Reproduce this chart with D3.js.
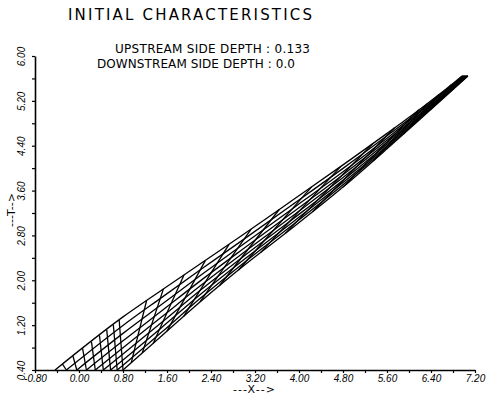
<!DOCTYPE html>
<html>
<head>
<meta charset="utf-8">
<script src="https://cdn.jsdelivr.net/npm/d3@7"></script>
<style>
  html, body { margin: 0; padding: 0; background: #fff; }
  svg { display: block; }
</style>
</head>
<body>
<div id="chart"></div>
<script>
// ticks and labels
const xTicks = [-0.8, -0.4, 0, 0.4, 0.8, 1.2, 1.6, 2.0, 2.4, 2.8, 3.2, 3.6, 4.0, 4.4, 4.8, 5.2, 5.6, 6.0, 6.4, 6.8, 7.2];
const xLabelValues = [-0.8, 0, 0.8, 1.6, 2.4, 3.2, 4.0, 4.8, 5.6, 6.4, 7.2];
const xLabels = ['-0.80', '0.00', '0.80', '1.60', '2.40', '3.20', '4.00', '4.80', '5.60', '6.40', '7.20'];
const yTicks = [0.4, 0.8, 1.2, 1.6, 2.0, 2.4, 2.8, 3.2, 3.6, 4.0, 4.4, 4.8, 5.2, 5.6, 6.0];
const yLabelValues = [0.4, 1.2, 2.0, 2.8, 3.6, 4.4, 5.2, 6.0];
const yLabels = ['0.40', '1.20', '2.00', '2.80', '3.60', '4.40', '5.20', '6.00'];

// C+ characteristics: start on t = 0.4, pass the sample columns, meet at the top
const tStart = 0.4;
const tEnd = 5.643;
const cPlusStartX = [-0.436, -0.23, -0.04, 0.135, 0.296, 0.442, 0.574, 0.694, 0.8];
const cPlusEndX = [6.964, 6.981, 6.998, 7.013, 7.027, 7.040, 7.052, 7.063, 7.073];
const sampleX = [0.8, 1.5, 2.2, 3.0, 3.9, 4.8, 5.6, 6.3, 6.8];
const cPlusT = [
  [1.347, 1.823, 2.290, 2.824, 3.440, 4.058, 4.620, 5.128, 5.511],
  [1.195, 1.691, 2.182, 2.734, 3.363, 3.996, 4.576, 5.101, 5.494],
  [1.053, 1.567, 2.080, 2.650, 3.290, 3.937, 4.535, 5.076, 5.477],
  [0.921, 1.452, 1.985, 2.572, 3.223, 3.883, 4.496, 5.052, 5.462],
  [0.798, 1.344, 1.897, 2.499, 3.160, 3.832, 4.460, 5.031, 5.448],
  [0.684, 1.245, 1.816, 2.432, 3.102, 3.786, 4.427, 5.010, 5.435],
  [0.580, 1.155, 1.742, 2.370, 3.049, 3.743, 4.397, 4.992, 5.423],
  [0.485, 1.072, 1.674, 2.314, 3.000, 3.704, 4.370, 4.975, 5.412],
  [0.400, 1.006, 1.613, 2.264, 2.950, 3.662, 4.345, 4.960, 5.403]
];

// C- characteristics: segments crossing the band
const cMinusX1 = [-0.23, -0.04, 0.135, 0.296, 0.442, 0.574, 0.694, 0.8, 0.95, 1.15, 1.35, 1.6, 1.9, 2.2, 2.55, 2.9, 3.3, 3.75, 4.25, 4.8, 5.35, 5.9, 6.4, 6.8];
const cMinusT1 = [0.4, 0.4, 0.4, 0.4, 0.4, 0.4, 0.4, 0.4, 0.530, 0.703, 0.876, 1.093, 1.353, 1.613, 1.898, 2.183, 2.493, 2.836, 3.228, 3.662, 4.130, 4.609, 5.048, 5.403];
const cMinusX2 = [-0.30, -0.11, 0.065, 0.226, 0.372, 0.504, 0.624, 0.73, 1.229, 1.535, 1.909, 2.298, 2.728, 3.13, 3.641, 4.229, 4.761, 5.344, 5.737, 6.18, 6.34, 6.54, 6.767, 6.98];
const cMinusT2 = [0.504, 0.650, 0.784, 0.907, 1.019, 1.120, 1.212, 1.293, 1.639, 1.846, 2.096, 2.355, 2.642, 2.913, 3.262, 3.665, 4.032, 4.440, 4.720, 5.040, 5.160, 5.310, 5.490, 5.643];

const width = 490, height = 398;

const svg = d3.select('#chart').append('svg')
  .attr('width', width)
  .attr('height', height);

const x = d3.scaleLinear().domain([-0.8, 7.2]).range([35, 475]);
const y = d3.scaleLinear().domain([0.4, 6.0]).range([370, 56]);

const labelFor = (vals, labels) => d => {
  const i = vals.findIndex(v => Math.abs(v - d) < 1e-9);
  return i < 0 ? '' : labels[i];
};

// title block
svg.append('text')
  .attr('x', 68).attr('y', 20)
  .attr('textLength', 244).attr('lengthAdjust', 'spacing')
  .style('font-family', 'DejaVu Sans').style('font-size', '15px')
  .text('INITIAL CHARACTERISTICS');

svg.append('text')
  .attr('x', 115).attr('y', 53)
  .attr('textLength', 195).attr('lengthAdjust', 'spacing')
  .style('font-family', 'DejaVu Sans').style('font-size', '12px')
  .text('UPSTREAM SIDE DEPTH : 0.133');

svg.append('text')
  .attr('x', 97).attr('y', 68)
  .attr('textLength', 198).attr('lengthAdjust', 'spacing')
  .style('font-family', 'DejaVu Sans').style('font-size', '12px')
  .text('DOWNSTREAM SIDE DEPTH : 0.0');

// axes
const xAxis = svg.append('g')
  .attr('class', 'x axis')
  .attr('transform', 'translate(0,' + y(0.4) + ')')
  .call(d3.axisBottom(x).tickValues(xTicks).tickSize(3).tickSizeOuter(0)
    .tickFormat(labelFor(xLabelValues, xLabels)));

xAxis.select('.domain').attr('stroke-width', 1.6);
xAxis.selectAll('.tick line').attr('stroke-width', 1.2);
xAxis.selectAll('.tick text')
  .attr('y', 5).attr('dy', '0.71em')
  .style('font-family', 'Liberation Sans').style('font-style', 'italic')
  .style('font-size', '10px');

const yAxis = svg.append('g')
  .attr('class', 'y axis')
  .attr('transform', 'translate(' + x(-0.8) + ',0)')
  .call(d3.axisLeft(y).tickValues(yTicks).tickSize(3).tickSizeOuter(0)
    .tickFormat(labelFor(yLabelValues, yLabels)));

yAxis.select('.domain').attr('stroke-width', 1.6);
yAxis.selectAll('.tick line').attr('stroke-width', 1.2);
yAxis.selectAll('.tick text')
  .attr('transform', 'rotate(-90)')
  .attr('x', 0).attr('y', -10).attr('dy', 0)
  .attr('text-anchor', 'middle')
  .style('font-family', 'Liberation Sans').style('font-style', 'italic')
  .style('font-size', '10px');

svg.append('text')
  .attr('x', 233).attr('y', 393)
  .attr('textLength', 42).attr('lengthAdjust', 'spacing')
  .style('font-family', 'DejaVu Sans').style('font-size', '11px')
  .text('---X-->');

svg.append('text')
  .attr('transform', 'translate(15,227) rotate(-90)')
  .attr('textLength', 34).attr('lengthAdjust', 'spacing')
  .style('font-family', 'DejaVu Sans').style('font-size', '11px')
  .text('---T-->');

// mesh
const line = d3.line()
  .x(d => x(d[0]))
  .y(d => y(d[1]));

const curve = d3.line()
  .x(d => x(d[0]))
  .y(d => y(d[1]))
  .curve(d3.curveMonotoneX);

const mesh = svg.append('g')
  .attr('fill', 'none')
  .attr('stroke', '#000')
  .attr('stroke-width', 1.3)
  .attr('stroke-linejoin', 'round');

cPlusT.forEach((row, j) => {
  const pts = [[cPlusStartX[j], tStart]]
    .concat(sampleX.filter(sx => sx > cPlusStartX[j]).map(sx => [sx, row[sampleX.indexOf(sx)]]))
    .concat([[cPlusEndX[j], tEnd]]);
  mesh.append('path').attr('class', 'cplus').attr('d', curve(pts));
});

cMinusX1.forEach((x1, i) => {
  mesh.append('path').attr('class', 'cminus')
    .attr('d', line([[x1, cMinusT1[i]], [cMinusX2[i], cMinusT2[i]]]));
});

mesh.append('path').attr('class', 'cap')
  .attr('d', line([[cPlusEndX[0], tEnd], [cPlusEndX[cPlusEndX.length - 1], tEnd]]));
</script>
</body>
</html>
